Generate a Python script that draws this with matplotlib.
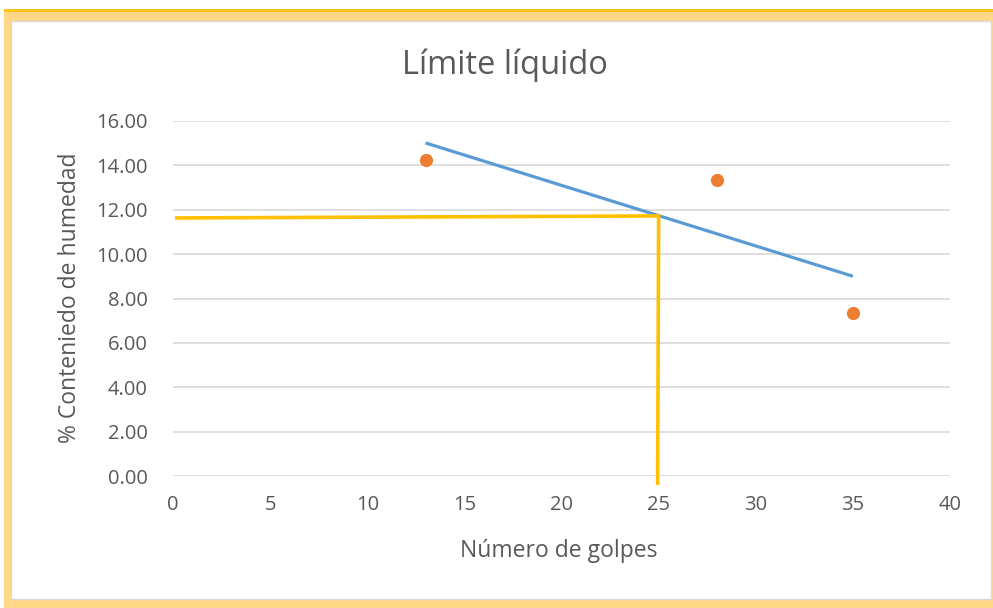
import numpy as np
import matplotlib
matplotlib.use("Agg")
import matplotlib.pyplot as plt
from matplotlib.patches import Rectangle

# Data
golpes = [13, 28, 35]
humedad = [14.24, 13.34, 7.35]
# Liquid-limit construction lines (drawn shapes)
lim_x = [0.1, 25.0, 24.95]
lim_y = [11.63, 11.72, -0.4]
x_ticks = [0, 5, 10, 15, 20, 25, 30, 35, 40]
y_ticks = [0, 2, 4, 6, 8, 10, 12, 14, 16]

W, H = 993, 608
plt.rcParams['font.family'] = ['Open Sans', 'DejaVu Sans']
fig = plt.figure(figsize=(W / 100, H / 100), dpi=100)
fig.patch.set_facecolor('white')

def px(x0, y0, x1, y1):
    return (x0 / W, 1 - y1 / H, (x1 - x0) / W, (y1 - y0) / H)

# Frame
x, y, w, h = px(4, 10, 993, 608)
fig.patches.append(Rectangle((x, y), w, h, transform=fig.transFigure, facecolor='#FFD787', edgecolor='none', zorder=-30))
x, y, w, h = px(4, 9, 993, 12)
fig.patches.append(Rectangle((x, y), w, h, transform=fig.transFigure, facecolor='#FFC21A', edgecolor='none', zorder=-29))
x, y, w, h = px(11, 21, 991, 599)
fig.patches.append(Rectangle((x, y), w, h, transform=fig.transFigure, facecolor='white', edgecolor='#D9D9D9', linewidth=1, zorder=-28))

grey = '#595959'
ax = fig.add_axes([173 / W, 1 - 476 / H, (950 - 173) / W, (476 - 121) / H])
ax.set_facecolor('none')
ax.set_xlim(0, 40)
ax.set_ylim(0, 16)
ax.set_xticks(x_ticks)
ax.set_yticks(y_ticks)
ax.set_xticklabels([str(v) for v in x_ticks])
ax.set_yticklabels([f"{v:.2f}" for v in y_ticks])
for s in ax.spines.values():
    s.set_visible(False)
ax.grid(axis='y', color='#D9D9D9', linewidth=1.2)
ax.set_axisbelow(True)
ax.tick_params(axis='both', length=0, labelsize=14.5, colors=grey)
ax.tick_params(axis='x', pad=14)
ax.tick_params(axis='y', pad=18)

# Trendline (linear fit of the data, over the data range)
m, b = np.polyfit(golpes, humedad, 1)
tx = np.array([min(golpes), max(golpes)])
ax.plot(tx, m * tx + b, color='#5B9BD5', linewidth=2.3, solid_capstyle='butt', zorder=3)

ax.plot(golpes, humedad, 'o', color='#ED7D31', markersize=9.5, markeredgewidth=0, zorder=4)

ax.plot(lim_x, lim_y, color='#FFC000', linewidth=2.6, clip_on=False, zorder=5,
        solid_joinstyle='miter', solid_capstyle='butt')

fig.text(505 / W, 1 - 65 / H, 'Límite líquido', fontsize=23.5, color=grey, ha='center', va='center')
fig.text(559 / W, 1 - 551 / H, 'Número de golpes', fontsize=16.5, color=grey, ha='center', va='center')
fig.text(70 / W, 1 - 298 / H, '% Conteniedo de humedad', fontsize=16.5, color=grey, ha='center', va='center', rotation=90)

fig.savefig('out.png', dpi=100, facecolor=fig.get_facecolor())
